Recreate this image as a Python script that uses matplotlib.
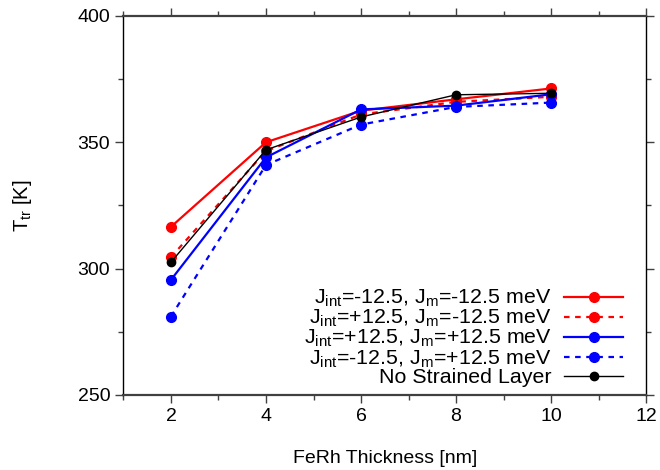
import matplotlib
matplotlib.use("Agg")
import matplotlib.pyplot as plt
from matplotlib.ticker import MultipleLocator

plt.rcParams['font.family'] = ['Liberation Sans', 'DejaVu Sans']
plt.rcParams['mathtext.fontset'] = 'custom'
plt.rcParams['mathtext.rm'] = 'Liberation Sans'
plt.rcParams['mathtext.it'] = 'Liberation Sans'

thickness = [2, 4, 6, 8, 10]
tc_mm = [316.5, 350.0, 362.5, 367.0, 371.3]
tc_pm = [304.5, 346.5, 361.0, 366.0, 368.0]
tc_pp = [295.5, 344.0, 363.0, 364.5, 369.0]
tc_mp = [281.0, 341.0, 357.0, 364.0, 365.7]
tc_none = [302.5, 347.0, 360.0, 368.8, 369.4]

labels = [
    r'J$_{\rm int}$=-12.5, J$_{\rm m}$=-12.5 meV',
    r'J$_{\rm int}$=+12.5, J$_{\rm m}$=-12.5 meV',
    r'J$_{\rm int}$=+12.5, J$_{\rm m}$=+12.5 meV',
    r'J$_{\rm int}$=-12.5, J$_{\rm m}$=+12.5 meV',
    'No Strained Layer',
]

fig = plt.figure(figsize=(6.6, 4.7), dpi=100)
ax = fig.add_axes([0.187, 0.16, 0.792, 0.806])

ax.plot(thickness, tc_mm, color='#ff0000', lw=1.6, marker='o', ms=7, label=labels[0])
ax.plot(thickness, tc_pm, color='#ff0000', lw=1.6, ls=(0, (2.5, 2.5)), marker='o', ms=7, label=labels[1])
ax.plot(thickness, tc_pp, color='#0000ff', lw=1.6, marker='o', ms=7, label=labels[2])
ax.plot(thickness, tc_mp, color='#0000ff', lw=1.6, ls=(0, (2.5, 2.5)), marker='o', ms=7, label=labels[3])
ax.plot(thickness, tc_none, color='black', lw=1.0, marker='o', ms=6, label=labels[4])

ax.set_xlim(1, 12)
ax.set_ylim(250, 400)
ax.xaxis.set_major_locator(MultipleLocator(2))
ax.xaxis.set_minor_locator(MultipleLocator(1))
ax.yaxis.set_major_locator(MultipleLocator(50))
ax.yaxis.set_minor_locator(MultipleLocator(25))
ax.tick_params(which='both', direction='out', top=True, right=True,
               labeltop=False, labelright=False, labelsize=14, color='#404040')
ax.tick_params(which='major', length=6, width=1)
ax.tick_params(which='minor', length=3.5, width=1)
for s in ax.spines.values():
    s.set_linewidth(1.0)
ax.spines['bottom'].set_color('#404040')
ax.spines['bottom'].set_linewidth(1.6)
ax.spines['top'].set_color('#404040')
ax.spines['top'].set_linewidth(1.6)

ax.set_xlabel('FeRh Thickness [nm]', fontsize=14, labelpad=18)
ax.set_ylabel(r'T$_{\rm tr}$ [K]', fontsize=14.5, labelpad=31)

ax.legend(loc='lower right', bbox_to_anchor=(0.956, 0.02), frameon=False,
          markerfirst=False, fontsize=15.4, handlelength=2.75, handletextpad=0.6,
          labelspacing=-0.06, borderpad=0, borderaxespad=0, numpoints=1)

fig.savefig('out.png', dpi=100)
